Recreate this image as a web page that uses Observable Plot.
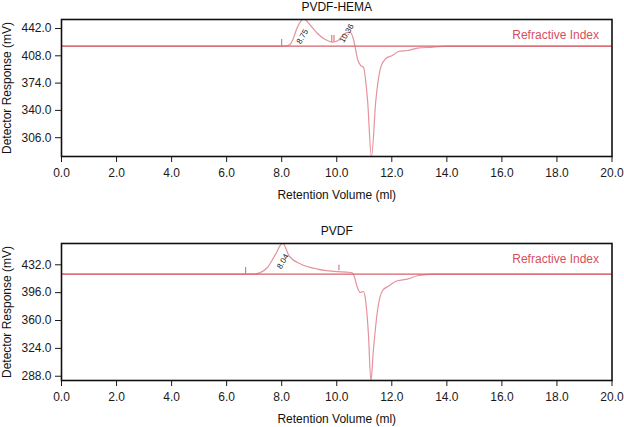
<!DOCTYPE html>
<html>
<head>
<meta charset="utf-8">
<script src="https://cdn.jsdelivr.net/npm/d3@7"></script>
<script src="https://cdn.jsdelivr.net/npm/@observablehq/plot@0.6"></script>
<style>
  html, body { margin: 0; padding: 0; background: #fff; }
  #chart { width: 624px; height: 427px; overflow: hidden; }
  #chart svg { display: block; }
</style>
</head>
<body>
<div id="chart"></div>
<script>
// ---------- data ----------
const xTicks = [0, 2, 4, 6, 8, 10, 12, 14, 16, 18, 20];
const baselineValue = 420;

// PVDF-HEMA panel
const hemaTitle = "PVDF-HEMA";
const hemaYTicks = [306, 340, 374, 408, 442];
const hemaRet  = [0, 8.1, 8.3, 8.39, 8.57, 8.8, 9.05, 9.3, 9.6, 9.84, 10.05, 10.27, 10.47, 10.6, 10.67, 10.75, 10.87, 10.97, 11.12, 11.26, 11.42, 11.6, 11.78, 12.02, 12.27, 12.57, 12.93, 13.5, 14, 20];
const hemaResp = [420, 420, 422, 427, 443.6, 454, 445.7, 435.8, 428, 425, 427, 435.4, 437.4, 429.5, 418.7, 404.6, 395.9, 393.8, 352.3, 282, 352.3, 393.8, 404.6, 408.4, 413.7, 414.6, 417.5, 418.7, 420, 420];
const hemaSpikeX  = [8.0, 9.82, 9.9];
const hemaSpikeLo = [420, 425, 425];
const hemaSpikeHi = [428.3, 433.3, 433.3];
const hemaPeakLabels = ["8.75", "10.36"];
const hemaPeakX = [8.75, 10.36];
const hemaPeakY = [432, 436];

// PVDF panel
const pvdfTitle = "PVDF";
const pvdfYTicks = [288, 324, 360, 396, 432];
const pvdfRet  = [0, 7.0, 7.2, 7.48, 7.78, 8.03, 8.27, 8.69, 9.3, 9.9, 10.5, 10.57, 10.63, 10.75, 10.85, 10.97, 11.05, 11.15, 11.24, 11.33, 11.48, 11.66, 11.9, 12.2, 12.57, 12.93, 13.54, 20];
const pvdfResp = [420, 420, 421.5, 428.5, 445.8, 460, 443.6, 432.9, 426.5, 423.4, 422, 421.3, 417.8, 402.7, 396.3, 397.5, 385.5, 343, 282, 321, 372.6, 398.5, 404.9, 411.4, 413.5, 417.8, 420, 420];
const pvdfSpikeX  = [6.69, 10.08];
const pvdfSpikeLo = [420, 424.3];
const pvdfSpikeHi = [428.5, 431.6];
const pvdfPeakLabels = ["8.04"];
const pvdfPeakX = [8.04];
const pvdfPeakY = [436.3];

const seriesLabel = "Refractive Index";
const xLabel = "Retention Volume (ml)";
const yLabel = "Detector Response (mV)";

// ---------- drawing ----------
const traceColor = "#e3939c";
const baseColor = "#d9606b";
const labelColor = "#d6505c";
const font = "'Liberation Sans', Arial, Helvetica, sans-serif";

function panel(o) {
  const trace = o.ret.map((r, i) => ({ret: r, resp: o.resp[i]}));
  const spikes = o.spikeX.map((x, i) => ({x, lo: o.spikeLo[i], hi: o.spikeHi[i]}));
  const peaks = o.peakLabels.map((t, i) => ({t, x: o.peakX[i], y: o.peakY[i]}));
  return Plot.plot({
    width: 624,
    height: o.height,
    marginLeft: 61,
    marginRight: 12.5,
    marginTop: o.mt,
    marginBottom: o.mb,
    style: {fontFamily: font, fontSize: "12px", color: "#1a1a1a", background: "white"},
    x: {domain: [0, 20], ticks: xTicks, tickFormat: d3.format(".1f"), tickSize: 6, tickPadding: 6, label: null},
    y: {domain: o.yDomain, ticks: o.yTicks, tickFormat: d3.format(".1f"), tickSize: 6, tickPadding: 4, label: null},
    marks: [
      Plot.line(trace, {x: "ret", y: "resp", stroke: traceColor, strokeWidth: 1.2, curve: "monotone-x", clip: true}),
      Plot.ruleY([baselineValue], {stroke: baseColor, strokeWidth: 1.2}),
      Plot.ruleX(spikes, {x: "x", y1: "lo", y2: "hi", stroke: baseColor, strokeWidth: 1}),
      Plot.text(peaks, {x: "x", y: "y", text: "t", rotate: -60, fontSize: 8, fill: "#222"}),
      Plot.text([seriesLabel], {frameAnchor: "top-right", dx: -13, dy: 16, textAnchor: "end", lineAnchor: "middle", fill: labelColor, fontSize: 12}),
      Plot.text([o.title], {frameAnchor: "top", dy: -12.5, lineAnchor: "middle", fill: "#111", fontSize: 12}),
      Plot.text([xLabel], {frameAnchor: "bottom", dy: 39, lineAnchor: "middle", fill: "#111", fontSize: 12}),
      Plot.text([yLabel], {frameAnchor: "left", dx: -54, rotate: -90, textAnchor: "middle", lineAnchor: "middle", fill: "#111", fontSize: 12}),
      Plot.frame({stroke: "#111", strokeWidth: 1.6})
    ]
  });
}

const root = document.getElementById("chart");
root.append(panel({
  title: hemaTitle, ret: hemaRet, resp: hemaResp, yDomain: [282.6, 453.2], yTicks: hemaYTicks,
  spikeX: hemaSpikeX, spikeLo: hemaSpikeLo, spikeHi: hemaSpikeHi,
  peakLabels: hemaPeakLabels, peakX: hemaPeakX, peakY: hemaPeakY,
  height: 213, mt: 19, mb: 57
}));
root.append(panel({
  title: pvdfTitle, ret: pvdfRet, resp: pvdfResp, yDomain: [282.5, 459.5], yTicks: pvdfYTicks,
  spikeX: pvdfSpikeX, spikeLo: pvdfSpikeLo, spikeHi: pvdfSpikeHi,
  peakLabels: pvdfPeakLabels, peakX: pvdfPeakX, peakY: pvdfPeakY,
  height: 214, mt: 30, mb: 47
}));
</script>
</body>
</html>
